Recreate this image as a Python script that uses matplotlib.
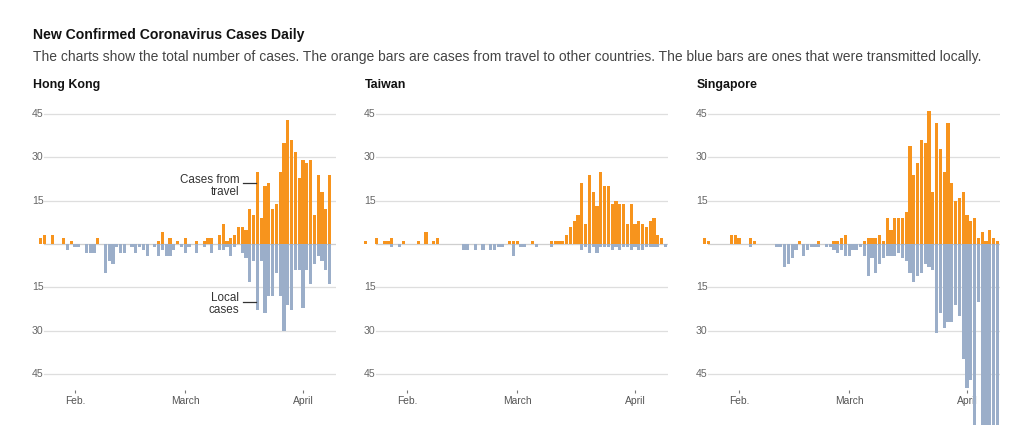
import numpy as np
import matplotlib
matplotlib.use("Agg")
import matplotlib.pyplot as plt

# ---------------- data ----------------
title = "New Confirmed Coronavirus Cases Daily"
subtitle = ("The charts show the total number of cases. The orange bars are cases from travel "
            "to other countries. The blue bars are ones that were transmitted locally.")
panel_names = ["Hong Kong", "Taiwan", "Singapore"]
month_ticks = [0, 29, 60]            # days since Feb. 1
month_labels = ["Feb.", "March", "April"]
y_ticks = [45, 30, 15, -15, -30, -45]
y_tick_labels = ["45", "30", "15", "15", "30", "45"]

# first day of each series, in days relative to Feb. 1
hk_start = -9    # Jan. 23
tw_start = -11   # Jan. 21
sg_start = -9    # Jan. 23

hk_travel = [2, 3, 0, 3, 0, 0, 2, 0, 1, 0,
             0, 0, 0, 0, 0, 2, 0, 0, 0, 0,
             0, 0, 0, 0, 0, 0, 0, 0, 0, 0,
             0, 1, 4, 0, 2, 0, 1, 0, 2, 0,
             0, 1, 0, 1, 2, 2, 0, 3, 7, 1,
             2, 3, 6, 6, 5, 12, 10, 25, 9, 20,
             21, 12, 14, 25, 35, 43, 36, 32, 23, 29,
             28, 29, 10, 24, 18, 12, 24]
hk_local = [0, 0, 0, 0, 0, 0, 0, 2, 0, 1,
            1, 0, 3, 3, 3, 0, 0, 10, 6, 7,
            1, 3, 3, 0, 1, 3, 1, 2, 4, 0,
            1, 4, 2, 4, 4, 2, 0, 1, 3, 1,
            0, 3, 0, 1, 0, 3, 0, 2, 2, 1,
            4, 1, 0, 3, 5, 13, 6, 23, 6, 24,
            18, 18, 10, 18, 30, 21, 23, 9, 9, 22,
            9, 14, 7, 4, 6, 9, 14]

tw_travel = [1, 0, 0, 2, 0, 1, 1, 2, 0, 0,
             1, 0, 0, 0, 1, 0, 4, 0, 1, 2,
             0, 0, 0, 0, 0, 0, 0, 0, 0, 0,
             0, 0, 0, 0, 0, 0, 0, 0, 1, 1,
             1, 0, 0, 0, 1, 0, 0, 0, 0, 1,
             1, 1, 1, 3, 6, 8, 10, 21, 7, 24,
             18, 13, 25, 20, 20, 14, 15, 14, 14, 7,
             14, 7, 8, 7, 6, 8, 9, 3, 2, 0]
tw_local = [0, 0, 0, 0, 0, 0, 0, 1, 0, 1,
            0, 0, 0, 0, 0, 0, 0, 0, 0, 0,
            0, 0, 0, 0, 0, 0, 2, 2, 0, 2,
            0, 2, 0, 2, 2, 1, 1, 0, 0, 4,
            0, 1, 1, 0, 0, 1, 0, 0, 0, 1,
            0, 0, 0, 0, 0, 0, 0, 2, 1, 3,
            1, 3, 1, 1, 1, 2, 1, 2, 1, 1,
            2, 1, 2, 2, 1, 1, 1, 1, 0, 1]

sg_travel = [2, 1, 0, 0, 0, 0, 0, 3, 3, 2,
             0, 0, 2, 1, 0, 0, 0, 0, 0, 0,
             0, 0, 0, 0, 0, 1, 0, 0, 0, 0,
             1, 0, 0, 0, 1, 1, 2, 3, 0, 0,
             0, 0, 1, 2, 2, 2, 3, 1, 9, 5,
             9, 9, 9, 11, 34, 24, 28, 36, 35, 46,
             18, 42, 33, 25, 42, 21, 15, 16, 18, 10,
             8, 9, 2, 4, 1, 5, 2, 1]
sg_local = [0, 0, 0, 0, 0, 0, 0, 0, 0, 0,
            0, 0, 1, 0, 0, 0, 0, 0, 0, 1,
            1, 8, 7, 5, 2, 0, 4, 2, 1, 1,
            1, 0, 1, 1, 2, 3, 2, 4, 4, 2,
            2, 1, 4, 11, 5, 10, 7, 5, 4, 4,
            4, 3, 5, 6, 10, 13, 11, 10, 7, 8,
            9, 31, 24, 29, 27, 27, 21, 25, 40, 50,
            47, 70, 20, 100, 90, 120, 130, 250]

series = [(hk_start, hk_travel, hk_local),
          (tw_start, tw_travel, tw_local),
          (sg_start, sg_travel, sg_local)]

# ---------------- style ----------------
ORANGE = "#F7941D"
BLUE = "#9BAEC9"
GRID = "#DEDEDE"
TEXT = "#333333"
LIGHT = "#666666"

W, H = 1024, 425
fig = plt.figure(figsize=(W / 100, H / 100), dpi=100)
fig.patch.set_facecolor("white")

regular = ["Liberation Sans", "DejaVu Sans"]

fig.text(33 / W, 1 - 35 / H, title, fontsize=10.1, fontweight="bold",
         family=regular, color="#121212", ha="left", va="center")
fig.text(33 / W, 1 - 57 / H, subtitle, fontsize=10.0, family=regular,
         color="#444444", ha="left", va="center")

panel_left = [32, 364, 696]
panel_w = 304
px_per_day = 3.8
feb_off = 43
zero_y = 244
top_px = 100
u_per_px = 15 / 43.3

xlim = (-feb_off / px_per_day, (panel_w - feb_off) / px_per_day)
ylim = (-(H - zero_y) * u_per_px, (zero_y - top_px) * u_per_px)

for k, (name, (start, travel, local)) in enumerate(zip(panel_names, series)):
    left = panel_left[k]
    fig.text((left + 1) / W, 1 - 85 / H, name, fontsize=8.9, fontweight="bold",
             family=regular, color="#121212", ha="left", va="center")
    ax = fig.add_axes([left / W, 0, panel_w / W, (H - top_px) / H])
    ax.set_xlim(*xlim)
    ax.set_ylim(*ylim)
    ax.axis("off")

    gx0 = 12 / panel_w
    for yt, lab in zip(y_ticks, y_tick_labels):
        ax.axhline(yt, xmin=gx0, xmax=1, color=GRID, lw=0.9, zorder=0)
        ax.text(xlim[0], yt, lab, fontsize=7.6, family=regular, color=LIGHT,
                ha="left", va="center")
    ax.axhline(0, xmin=gx0, xmax=1, color="#CFCFCF", lw=0.9, zorder=0)

    days = start + np.arange(len(travel))
    ax.bar(days, travel, width=0.86, color=ORANGE, linewidth=0, zorder=2)
    ax.bar(days, -np.asarray(local), width=0.86, color=BLUE, linewidth=0, zorder=2)

    for d, lab in zip(month_ticks, month_labels):
        ax.vlines(d, -51.7, -50.5, color="#777777", lw=0.8, zorder=1)
        ax.text(d, -54.4, lab, fontsize=7.4, family=regular, color="#555555",
                ha="center", va="center", zorder=1)

    if k == 0:
        ax.text(43.2, 20.2, "Cases from\ntravel", fontsize=8.4, family=regular,
                color=TEXT, ha="right", va="center", linespacing=1.0, zorder=3)
        ax.plot([44.2, 47.6], [21.1, 21.1], color=TEXT, lw=0.9, zorder=3)
        ax.text(43.2, -20.8, "Local\ncases", fontsize=8.4, family=regular,
                color=TEXT, ha="right", va="center", linespacing=1.0, zorder=3)
        ax.plot([44.2, 47.6], [-20.0, -20.0], color=TEXT, lw=0.9, zorder=3)

fig.savefig("out.png", dpi=100, facecolor="white")
